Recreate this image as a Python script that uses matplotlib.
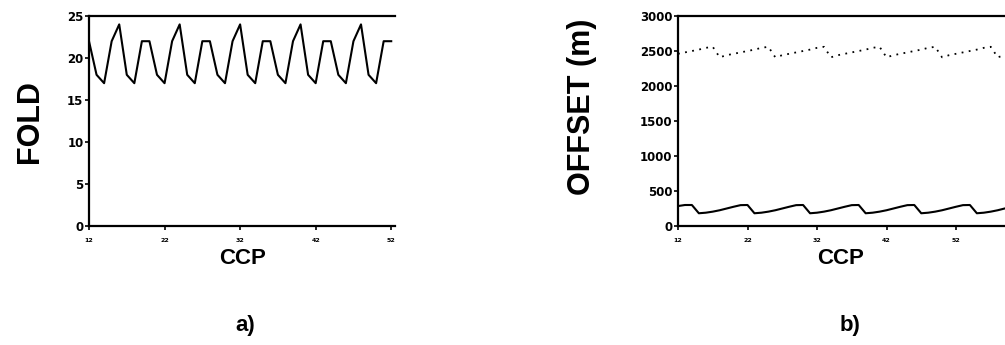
import numpy as np
import matplotlib.pyplot as plt

# datos
ccp_a = np.arange(12, 53)
fold = [22,
        18, 17, 22, 24, 18, 17, 22, 22,
        18, 17, 22, 24, 18, 17, 22, 22,
        18, 17, 22, 24, 18, 17, 22, 22,
        18, 17, 22, 24, 18, 17, 22, 22,
        18, 17, 22, 24, 18, 17, 22, 22]

ccp_b = np.arange(12, 63)
near_offset = [285, 300, 300,
               182, 190, 205, 225, 250, 275, 298, 300,
               182, 190, 205, 225, 250, 275, 298, 300,
               182, 190, 205, 225, 250, 275, 298, 300,
               182, 190, 205, 225, 250, 275, 298, 300,
               182, 190, 205, 225, 250, 275, 298, 300,
               182, 190, 205, 225, 250, 275, 298, 300]
far_offset = [2460, 2480, 2500, 2520, 2545, 2560,
              2410, 2440, 2460, 2480, 2500, 2520, 2545, 2560,
              2410, 2440, 2460, 2480, 2500, 2520, 2545, 2560,
              2410, 2440, 2460, 2480, 2500, 2520, 2545, 2560,
              2410, 2440, 2460, 2480, 2500, 2520, 2545, 2560,
              2410, 2440, 2460, 2480, 2500, 2520, 2545, 2560,
              2410, 2440, 2460, 2480, 2500]

x_ticks = [12, 22, 32, 42, 52]
fold_ticks = [0, 5, 10, 15, 20, 25]
offset_ticks = [0, 500, 1000, 1500, 2000, 2500, 3000]

W, H = 1005, 345
fig = plt.figure(figsize=(W / 100, H / 100), dpi=100)


def px_axes(left, right, top, bottom):
    return fig.add_axes([left / W, 1 - bottom / H, (right - left) / W, (bottom - top) / H])


def style(ax):
    ax.spines['right'].set_visible(False)
    for s in ['left', 'bottom', 'top']:
        ax.spines[s].set_linewidth(1.6)
    ax.tick_params(axis='both', direction='out', length=3, width=1.2, top=False, right=False)
    ax.tick_params(axis='y', labelsize=8.5, pad=1)
    ax.tick_params(axis='x', labelsize=4.5, pad=6)
    for lab in ax.get_xticklabels() + ax.get_yticklabels():
        lab.set_fontweight('bold')
        lab.set_fontfamily('DejaVu Sans')


# a) cobertura
ax1 = px_axes(89, 395, 16, 226)
ax1.plot(ccp_a, fold, 'k-', linewidth=1.5)
ax1.set_xlim(12, 52.5)
ax1.set_ylim(0, 25)
ax1.set_xticks(x_ticks)
ax1.set_yticks(fold_ticks)
style(ax1)

# b) offsets
ax2 = px_axes(678, 678 + 49 * 6.95, 16, 226)
ax2.plot(ccp_b, near_offset, 'k-', linewidth=1.5)
ax2.plot(ccp_b, far_offset, 'k', linestyle=(0, (1, 3)), linewidth=1.3)
ax2.set_xlim(12, 61)
ax2.set_ylim(0, 3000)
ax2.set_xticks(x_ticks)
ax2.set_yticks(offset_ticks)
style(ax2)

bold_font = 'Liberation Sans'
fig.text(30 / W, 1 - 122 / H, 'FOLD', rotation=90, ha='center', va='center',
         fontsize=22, fontweight='bold', family=bold_font)
fig.text(582 / W, 1 - 107 / H, 'OFFSET (m)', rotation=90, ha='center', va='center',
         fontsize=22, fontweight='bold', family=bold_font)
fig.text(243 / W, 1 - 258 / H, 'CCP', ha='center', va='center', fontsize=16, fontweight='bold', family=bold_font)
fig.text(841 / W, 1 - 258 / H, 'CCP', ha='center', va='center', fontsize=16, fontweight='bold', family=bold_font)
fig.text(245 / W, 1 - 325 / H, 'a)', ha='center', va='center', fontsize=16, fontweight='bold', family=bold_font)
fig.text(850 / W, 1 - 325 / H, 'b)', ha='center', va='center', fontsize=16, fontweight='bold', family=bold_font)

plt.savefig('out.png', dpi=100)
